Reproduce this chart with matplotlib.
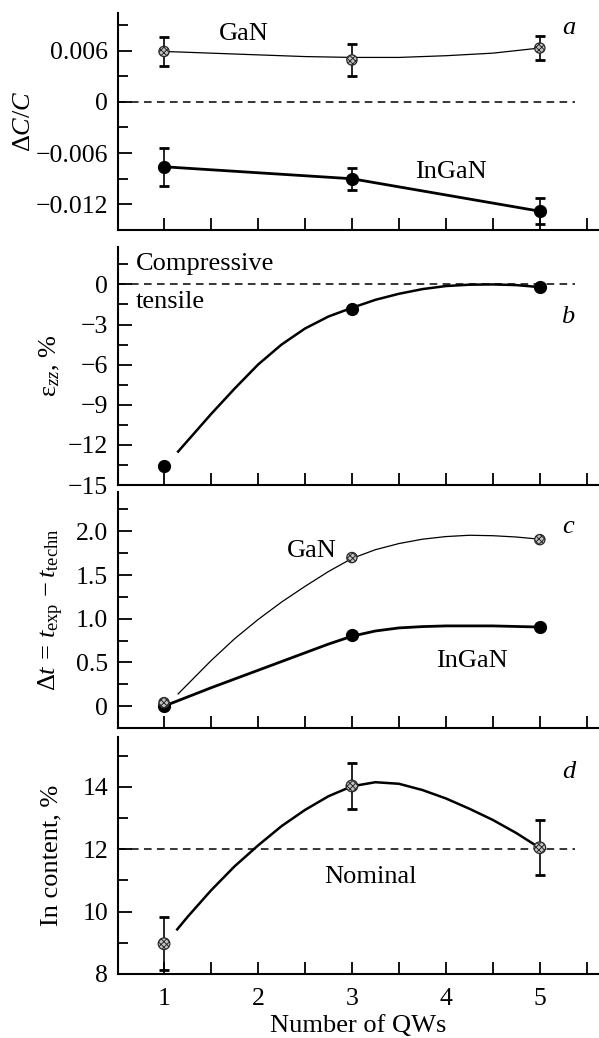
import matplotlib
matplotlib.use("Agg")
import matplotlib.pyplot as plt
from matplotlib.ticker import FixedLocator, FuncFormatter

plt.rcParams.update({
    "font.family": "Liberation Serif",
    "font.size": 19,
    "xtick.labelsize": 18.5,
    "ytick.labelsize": 18.5,
    "mathtext.fontset": "custom",
    "mathtext.rm": "Liberation Serif",
    "mathtext.it": "Liberation Serif:italic",
    "mathtext.bf": "Liberation Serif:bold",
    "axes.linewidth": 1.5,
    "hatch.linewidth": 0.7,
})

# --- data ---
qws = [1, 3, 5]

# (a) dC/C
a_gan = [0.0059, 0.0049, 0.0063]
a_gan_err = [0.0017, 0.0019, 0.0014]
a_ingan = [-0.0076, -0.0090, -0.0128]
a_ingan_err = [0.0022, 0.0013, 0.0015]
a_gan_fit_x = [1.0, 1.5, 2.0, 2.5, 3.0, 3.5, 4.0, 4.5, 5.0]
a_gan_fit = [0.0059, 0.0057, 0.0055, 0.0053, 0.0052, 0.0052, 0.0054, 0.0057, 0.0063]

# (b) strain eps_zz, %
b_eps = [-13.6, -1.8, -0.2]
b_fit_x = [1.15, 1.25, 1.5, 1.75, 2.0, 2.25, 2.5, 2.75, 3.0, 3.25, 3.5, 3.75,
           4.0, 4.25, 4.5, 4.75, 5.0]
b_fit = [-12.5, -11.7, -9.7, -7.8, -6.0, -4.5, -3.3, -2.4, -1.75, -1.15, -0.7,
         -0.35, -0.12, -0.02, 0.0, -0.05, -0.2]

# (c) dt = t_exp - t_techn
c_gan = [0.04, 1.70, 1.905]
c_ingan = [0.0, 0.81, 0.905]
c_gan_fit_x = [1.15, 1.5, 1.75, 2.0, 2.25, 2.5, 2.75, 3.0, 3.25, 3.5, 3.75,
               4.0, 4.25, 4.5, 4.75, 5.0]
c_gan_fit = [0.14, 0.52, 0.77, 0.99, 1.19, 1.37, 1.54, 1.69, 1.79, 1.86, 1.91,
             1.94, 1.955, 1.95, 1.935, 1.91]
c_ingan_fit_x = [1.0, 1.5, 2.0, 2.5, 2.75, 3.0, 3.25, 3.5, 3.75, 4.0, 4.5, 5.0]
c_ingan_fit = [0.0, 0.21, 0.41, 0.61, 0.71, 0.80, 0.86, 0.895, 0.91, 0.918,
               0.918, 0.905]

# (d) In content, %
d_in = [8.97, 14.03, 12.05]
d_in_err = [0.85, 0.75, 0.88]
d_fit_x = [1.14, 1.25, 1.5, 1.75, 2.0, 2.25, 2.5, 2.75, 3.0, 3.25, 3.5, 3.75,
           4.0, 4.25, 4.5, 4.75, 5.0]
d_fit = [9.43, 9.83, 10.68, 11.45, 12.12, 12.74, 13.26, 13.7, 14.02, 14.15,
         14.1, 13.9, 13.63, 13.3, 12.94, 12.52, 12.04]
d_nominal = 12

XLIM = (0.51, 5.63)
DASH_END = 5.37

W, H = 599, 1038
fig = plt.figure(figsize=(W / 100, H / 100), dpi=100)


def make_ax(top, bottom):
    left, right = 118, 599
    return fig.add_axes([left / W, (H - bottom) / H, (right - left) / W, (bottom - top) / H])


def style(ax, ylim, major, minor, fmt, xlabels=False):
    ax.set_xlim(*XLIM)
    ax.set_ylim(*ylim)
    for s in ("top", "right"):
        ax.spines[s].set_visible(False)
    ax.yaxis.set_major_locator(FixedLocator(major))
    ax.yaxis.set_minor_locator(FixedLocator(minor))
    ax.yaxis.set_major_formatter(FuncFormatter(fmt))
    ax.xaxis.set_major_locator(FixedLocator([1, 2, 3, 4, 5]))
    ax.xaxis.set_minor_locator(FixedLocator([1.5, 2.5, 3.5, 4.5, 5.5]))
    ax.tick_params(axis="y", which="major", direction="in", length=10, width=1.3, pad=7)
    ax.tick_params(axis="y", which="minor", direction="in", length=7, width=1.3)
    ax.tick_params(axis="x", which="both", direction="in", length=9, width=1.3, pad=10,
                   labelbottom=xlabels)


def minus(s):
    return s.replace("-", "\u2212")


def gan_markers(ax, x, y, s=55):
    ax.scatter(x, y, s=s, facecolor="#c4c4c4", edgecolor="#2a2a2a", hatch="xxxxxx",
               linewidth=0.9, zorder=5)


# ---- panel a ----
ax = make_ax(13, 230)
style(ax, (-0.015, 0.0104), [-0.012, -0.006, 0, 0.006], [-0.009, -0.003, 0.003, 0.009],
      lambda v, p: "0" if abs(v) < 1e-9 else minus(f"{v:.3f}"))
ax.hlines(0, XLIM[0], DASH_END, colors="k", linestyles=(0, (5, 3.5)), linewidth=1.1)
ax.plot(a_gan_fit_x, a_gan_fit, color="k", lw=0.9)
ax.errorbar(qws, a_gan, yerr=a_gan_err, fmt="none", ecolor="k", elinewidth=1.2,
            capsize=3.5, capthick=2)
gan_markers(ax, qws, a_gan)
ax.plot(qws, a_ingan, color="k", lw=2)
ax.errorbar(qws, a_ingan, yerr=a_ingan_err, fmt="o", color="k", ms=8.5,
            elinewidth=1.2, capsize=3.5, capthick=2, zorder=5)
ax.text(1.85, 0.0079, "GaN", ha="center", va="center")
ax.text(4.05, -0.0082, "InGaN", ha="center", va="center")
ax.text(5.31, 0.0087, "a", ha="center", va="center", style="italic")
ax.set_ylabel(r"$\Delta C/C$")
ax.yaxis.set_label_coords(-0.172, 0.5)

# ---- panel b ----
ax = make_ax(247, 485)
style(ax, (-15, 2.8), [-15, -12, -9, -6, -3, 0], [-13.5, -10.5, -7.5, -4.5, -1.5, 1.5],
      lambda v, p: minus(f"{v:.0f}"))
ax.hlines(0, XLIM[0], DASH_END, colors="k", linestyles=(0, (5, 3.5)), linewidth=1.1)
ax.plot(b_fit_x, b_fit, color="k", lw=1.8)
ax.plot(qws, b_eps, "o", color="k", ms=8.5, zorder=5)
ax.text(0.695, 1.5, "Compressive", ha="left", va="center")
ax.text(0.695, -1.3, "tensile", ha="left", va="center")
ax.text(5.3, -2.4, "b", ha="center", va="center", style="italic")
ax.set_ylabel(r"$\mathrm{\varepsilon}_{zz}$, %")
ax.yaxis.set_label_coords(-0.116, 0.5)

# ---- panel c ----
ax = make_ax(492, 728)
style(ax, (-0.25, 2.45), [0, 0.5, 1.0, 1.5, 2.0], [0.25, 0.75, 1.25, 1.75, 2.25],
      lambda v, p: "0" if abs(v) < 1e-9 else f"{v:.1f}")
ax.plot(c_gan_fit_x, c_gan_fit, color="k", lw=0.9)
ax.plot(c_ingan_fit_x, c_ingan_fit, color="k", lw=2)
ax.plot(qws, c_ingan, "o", color="k", ms=8.5, zorder=4)
gan_markers(ax, qws, c_gan)
ax.text(2.57, 1.78, "GaN", ha="center", va="center")
ax.text(4.28, 0.52, "InGaN", ha="center", va="center")
ax.text(5.3, 2.05, "c", ha="center", va="center", style="italic")
ax.set_ylabel(r"$\Delta t\,=\,t_{\mathrm{exp}}\,- t_{\mathrm{techn}}$")
ax.yaxis.set_label_coords(-0.108, 0.5)

# ---- panel d ----
ax = make_ax(737, 974)
style(ax, (8, 15.6), [8, 10, 12, 14], [9, 11, 13, 15],
      lambda v, p: f"{v:.0f}", xlabels=True)
ax.hlines(d_nominal, XLIM[0], DASH_END, colors="k", linestyles=(0, (5, 3.5)), linewidth=1.1)
ax.plot(d_fit_x, d_fit, color="k", lw=1.8)
ax.errorbar(qws, d_in, yerr=d_in_err, fmt="none", ecolor="k", elinewidth=1.2,
            capsize=3.5, capthick=2)
gan_markers(ax, qws, d_in, s=70)
ax.text(3.2, 11.1, "Nominal", ha="center", va="center")
ax.text(5.31, 14.48, "d", ha="center", va="center", style="italic")
ax.set_ylabel("In content, %")
ax.yaxis.set_label_coords(-0.116, 0.5)
ax.set_xlabel("Number of QWs", labelpad=4)

fig.savefig("out.png", dpi=100)
